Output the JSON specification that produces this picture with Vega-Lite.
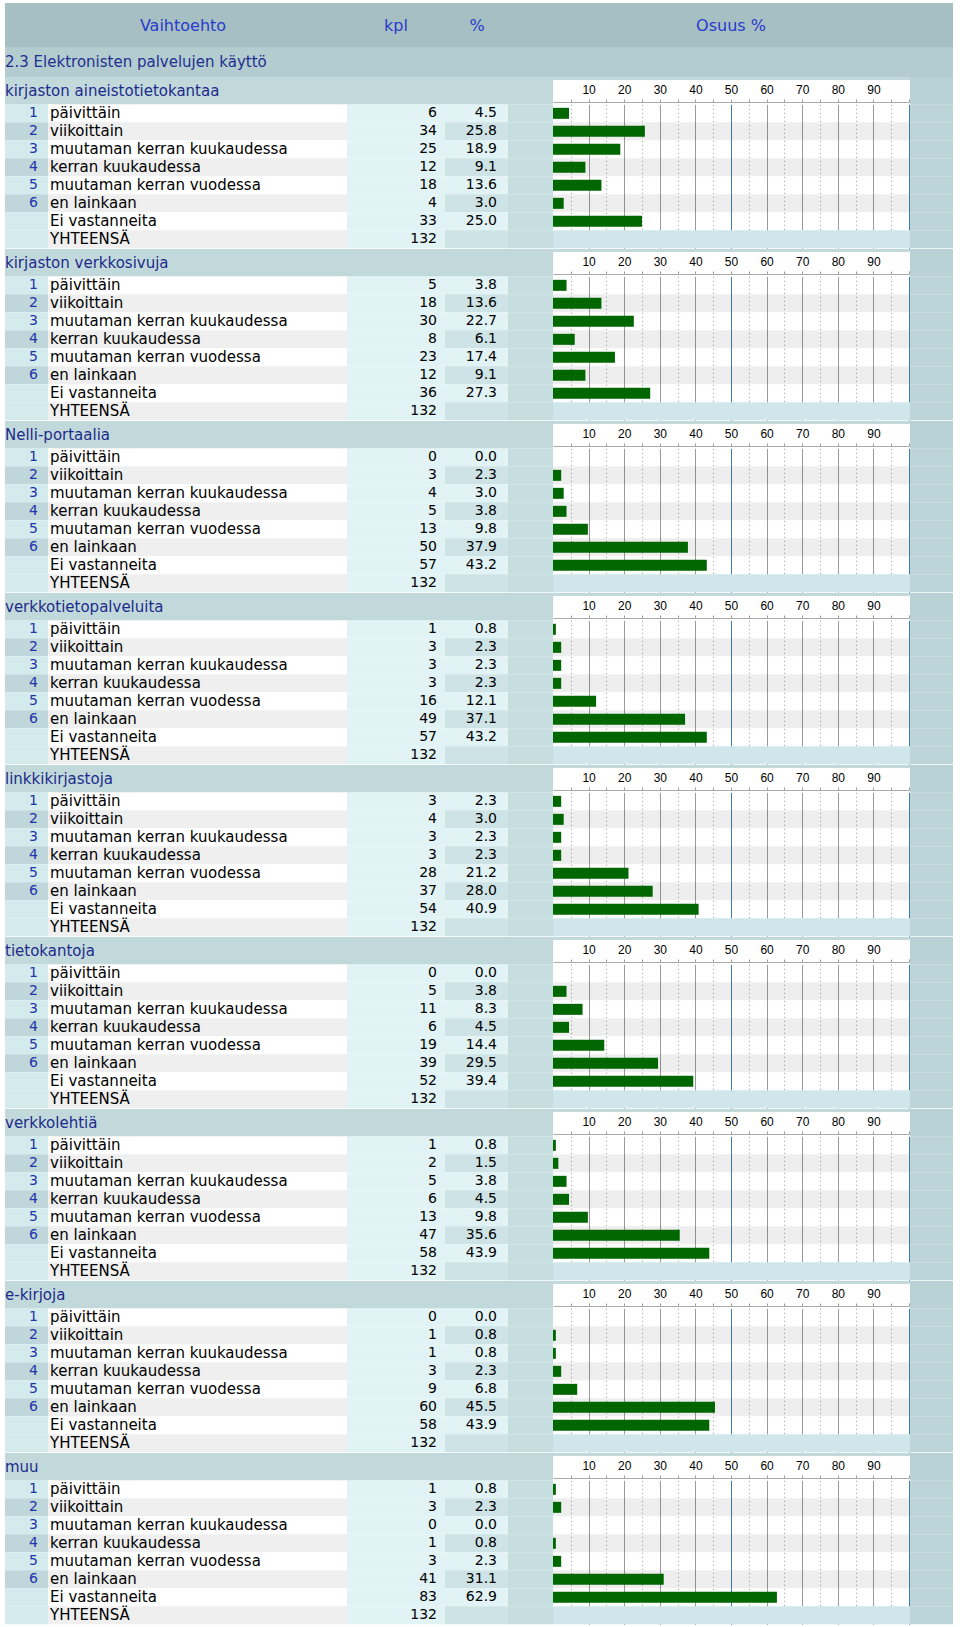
{
  "$schema": "https://vega.github.io/schema/vega-lite/v6.json",
  "background": "white",
  "padding": 0,
  "spacing": 0,
  "config": {
    "view": {"stroke": null},
    "concat": {"spacing": 0},
    "facet": {"spacing": 0},
    "text": {"font": "DejaVu Sans"}
  },
  "vconcat": [
    {
      "width": 960,
      "height": 77,
      "data": {"values": [{"part": "header"}]},
      "layer": [
        {"mark": {"type": "rect", "color": "#a6bfc2"}, "encoding": {"x": {"value": 5}, "x2": {"value": 953}, "y": {"value": 3}, "y2": {"value": 47}}},
        {"mark": {"type": "rect", "color": "#b3ccd0"}, "encoding": {"x": {"value": 5}, "x2": {"value": 953}, "y": {"value": 47}, "y2": {"value": 77}}},
        {"mark": {"type": "text", "text": "Vaihtoehto", "align": "center", "baseline": "middle", "fontSize": 16, "color": "#2a3acc"}, "encoding": {"x": {"value": 183}, "y": {"value": 26}}},
        {"mark": {"type": "text", "text": "kpl", "align": "center", "baseline": "middle", "fontSize": 16, "color": "#2a3acc"}, "encoding": {"x": {"value": 396}, "y": {"value": 26}}},
        {"mark": {"type": "text", "text": "%", "align": "center", "baseline": "middle", "fontSize": 16, "color": "#2a3acc"}, "encoding": {"x": {"value": 477}, "y": {"value": 26}}},
        {"mark": {"type": "text", "text": "Osuus %", "align": "center", "baseline": "middle", "fontSize": 16, "color": "#2a3acc"}, "encoding": {"x": {"value": 731}, "y": {"value": 26}}},
        {"mark": {"type": "text", "text": "2.3 Elektronisten palvelujen käyttö", "align": "left", "baseline": "middle", "fontSize": 15, "color": "#1f2f8f"}, "encoding": {"x": {"value": 5}, "y": {"value": 62}}}
      ]
    },
    {
      "data": {"values": [
        {"gi":1,"g":"kirjaston aineistotietokantaa","r":1,"code":"1","label":"päivittäin","kpl":6,"pct":4.5},
        {"gi":1,"g":"kirjaston aineistotietokantaa","r":2,"code":"2","label":"viikoittain","kpl":34,"pct":25.8},
        {"gi":1,"g":"kirjaston aineistotietokantaa","r":3,"code":"3","label":"muutaman kerran kuukaudessa","kpl":25,"pct":18.9},
        {"gi":1,"g":"kirjaston aineistotietokantaa","r":4,"code":"4","label":"kerran kuukaudessa","kpl":12,"pct":9.1},
        {"gi":1,"g":"kirjaston aineistotietokantaa","r":5,"code":"5","label":"muutaman kerran vuodessa","kpl":18,"pct":13.6},
        {"gi":1,"g":"kirjaston aineistotietokantaa","r":6,"code":"6","label":"en lainkaan","kpl":4,"pct":3.0},
        {"gi":1,"g":"kirjaston aineistotietokantaa","r":7,"code":"","label":"Ei vastanneita","kpl":33,"pct":25.0},
        {"gi":1,"g":"kirjaston aineistotietokantaa","r":8,"code":"","label":"YHTEENSÄ","kpl":132,"pct":null},
        {"gi":2,"g":"kirjaston verkkosivuja","r":1,"code":"1","label":"päivittäin","kpl":5,"pct":3.8},
        {"gi":2,"g":"kirjaston verkkosivuja","r":2,"code":"2","label":"viikoittain","kpl":18,"pct":13.6},
        {"gi":2,"g":"kirjaston verkkosivuja","r":3,"code":"3","label":"muutaman kerran kuukaudessa","kpl":30,"pct":22.7},
        {"gi":2,"g":"kirjaston verkkosivuja","r":4,"code":"4","label":"kerran kuukaudessa","kpl":8,"pct":6.1},
        {"gi":2,"g":"kirjaston verkkosivuja","r":5,"code":"5","label":"muutaman kerran vuodessa","kpl":23,"pct":17.4},
        {"gi":2,"g":"kirjaston verkkosivuja","r":6,"code":"6","label":"en lainkaan","kpl":12,"pct":9.1},
        {"gi":2,"g":"kirjaston verkkosivuja","r":7,"code":"","label":"Ei vastanneita","kpl":36,"pct":27.3},
        {"gi":2,"g":"kirjaston verkkosivuja","r":8,"code":"","label":"YHTEENSÄ","kpl":132,"pct":null},
        {"gi":3,"g":"Nelli-portaalia","r":1,"code":"1","label":"päivittäin","kpl":0,"pct":0.0},
        {"gi":3,"g":"Nelli-portaalia","r":2,"code":"2","label":"viikoittain","kpl":3,"pct":2.3},
        {"gi":3,"g":"Nelli-portaalia","r":3,"code":"3","label":"muutaman kerran kuukaudessa","kpl":4,"pct":3.0},
        {"gi":3,"g":"Nelli-portaalia","r":4,"code":"4","label":"kerran kuukaudessa","kpl":5,"pct":3.8},
        {"gi":3,"g":"Nelli-portaalia","r":5,"code":"5","label":"muutaman kerran vuodessa","kpl":13,"pct":9.8},
        {"gi":3,"g":"Nelli-portaalia","r":6,"code":"6","label":"en lainkaan","kpl":50,"pct":37.9},
        {"gi":3,"g":"Nelli-portaalia","r":7,"code":"","label":"Ei vastanneita","kpl":57,"pct":43.2},
        {"gi":3,"g":"Nelli-portaalia","r":8,"code":"","label":"YHTEENSÄ","kpl":132,"pct":null},
        {"gi":4,"g":"verkkotietopalveluita","r":1,"code":"1","label":"päivittäin","kpl":1,"pct":0.8},
        {"gi":4,"g":"verkkotietopalveluita","r":2,"code":"2","label":"viikoittain","kpl":3,"pct":2.3},
        {"gi":4,"g":"verkkotietopalveluita","r":3,"code":"3","label":"muutaman kerran kuukaudessa","kpl":3,"pct":2.3},
        {"gi":4,"g":"verkkotietopalveluita","r":4,"code":"4","label":"kerran kuukaudessa","kpl":3,"pct":2.3},
        {"gi":4,"g":"verkkotietopalveluita","r":5,"code":"5","label":"muutaman kerran vuodessa","kpl":16,"pct":12.1},
        {"gi":4,"g":"verkkotietopalveluita","r":6,"code":"6","label":"en lainkaan","kpl":49,"pct":37.1},
        {"gi":4,"g":"verkkotietopalveluita","r":7,"code":"","label":"Ei vastanneita","kpl":57,"pct":43.2},
        {"gi":4,"g":"verkkotietopalveluita","r":8,"code":"","label":"YHTEENSÄ","kpl":132,"pct":null},
        {"gi":5,"g":"linkkikirjastoja","r":1,"code":"1","label":"päivittäin","kpl":3,"pct":2.3},
        {"gi":5,"g":"linkkikirjastoja","r":2,"code":"2","label":"viikoittain","kpl":4,"pct":3.0},
        {"gi":5,"g":"linkkikirjastoja","r":3,"code":"3","label":"muutaman kerran kuukaudessa","kpl":3,"pct":2.3},
        {"gi":5,"g":"linkkikirjastoja","r":4,"code":"4","label":"kerran kuukaudessa","kpl":3,"pct":2.3},
        {"gi":5,"g":"linkkikirjastoja","r":5,"code":"5","label":"muutaman kerran vuodessa","kpl":28,"pct":21.2},
        {"gi":5,"g":"linkkikirjastoja","r":6,"code":"6","label":"en lainkaan","kpl":37,"pct":28.0},
        {"gi":5,"g":"linkkikirjastoja","r":7,"code":"","label":"Ei vastanneita","kpl":54,"pct":40.9},
        {"gi":5,"g":"linkkikirjastoja","r":8,"code":"","label":"YHTEENSÄ","kpl":132,"pct":null},
        {"gi":6,"g":"tietokantoja","r":1,"code":"1","label":"päivittäin","kpl":0,"pct":0.0},
        {"gi":6,"g":"tietokantoja","r":2,"code":"2","label":"viikoittain","kpl":5,"pct":3.8},
        {"gi":6,"g":"tietokantoja","r":3,"code":"3","label":"muutaman kerran kuukaudessa","kpl":11,"pct":8.3},
        {"gi":6,"g":"tietokantoja","r":4,"code":"4","label":"kerran kuukaudessa","kpl":6,"pct":4.5},
        {"gi":6,"g":"tietokantoja","r":5,"code":"5","label":"muutaman kerran vuodessa","kpl":19,"pct":14.4},
        {"gi":6,"g":"tietokantoja","r":6,"code":"6","label":"en lainkaan","kpl":39,"pct":29.5},
        {"gi":6,"g":"tietokantoja","r":7,"code":"","label":"Ei vastanneita","kpl":52,"pct":39.4},
        {"gi":6,"g":"tietokantoja","r":8,"code":"","label":"YHTEENSÄ","kpl":132,"pct":null},
        {"gi":7,"g":"verkkolehtiä","r":1,"code":"1","label":"päivittäin","kpl":1,"pct":0.8},
        {"gi":7,"g":"verkkolehtiä","r":2,"code":"2","label":"viikoittain","kpl":2,"pct":1.5},
        {"gi":7,"g":"verkkolehtiä","r":3,"code":"3","label":"muutaman kerran kuukaudessa","kpl":5,"pct":3.8},
        {"gi":7,"g":"verkkolehtiä","r":4,"code":"4","label":"kerran kuukaudessa","kpl":6,"pct":4.5},
        {"gi":7,"g":"verkkolehtiä","r":5,"code":"5","label":"muutaman kerran vuodessa","kpl":13,"pct":9.8},
        {"gi":7,"g":"verkkolehtiä","r":6,"code":"6","label":"en lainkaan","kpl":47,"pct":35.6},
        {"gi":7,"g":"verkkolehtiä","r":7,"code":"","label":"Ei vastanneita","kpl":58,"pct":43.9},
        {"gi":7,"g":"verkkolehtiä","r":8,"code":"","label":"YHTEENSÄ","kpl":132,"pct":null},
        {"gi":8,"g":"e-kirjoja","r":1,"code":"1","label":"päivittäin","kpl":0,"pct":0.0},
        {"gi":8,"g":"e-kirjoja","r":2,"code":"2","label":"viikoittain","kpl":1,"pct":0.8},
        {"gi":8,"g":"e-kirjoja","r":3,"code":"3","label":"muutaman kerran kuukaudessa","kpl":1,"pct":0.8},
        {"gi":8,"g":"e-kirjoja","r":4,"code":"4","label":"kerran kuukaudessa","kpl":3,"pct":2.3},
        {"gi":8,"g":"e-kirjoja","r":5,"code":"5","label":"muutaman kerran vuodessa","kpl":9,"pct":6.8},
        {"gi":8,"g":"e-kirjoja","r":6,"code":"6","label":"en lainkaan","kpl":60,"pct":45.5},
        {"gi":8,"g":"e-kirjoja","r":7,"code":"","label":"Ei vastanneita","kpl":58,"pct":43.9},
        {"gi":8,"g":"e-kirjoja","r":8,"code":"","label":"YHTEENSÄ","kpl":132,"pct":null},
        {"gi":9,"g":"muu","r":1,"code":"1","label":"päivittäin","kpl":1,"pct":0.8},
        {"gi":9,"g":"muu","r":2,"code":"2","label":"viikoittain","kpl":3,"pct":2.3},
        {"gi":9,"g":"muu","r":3,"code":"3","label":"muutaman kerran kuukaudessa","kpl":0,"pct":0.0},
        {"gi":9,"g":"muu","r":4,"code":"4","label":"kerran kuukaudessa","kpl":1,"pct":0.8},
        {"gi":9,"g":"muu","r":5,"code":"5","label":"muutaman kerran vuodessa","kpl":3,"pct":2.3},
        {"gi":9,"g":"muu","r":6,"code":"6","label":"en lainkaan","kpl":41,"pct":31.1},
        {"gi":9,"g":"muu","r":7,"code":"","label":"Ei vastanneita","kpl":83,"pct":62.9},
        {"gi":9,"g":"muu","r":8,"code":"","label":"YHTEENSÄ","kpl":132,"pct":null}
      ]},
      "facet": {"row": {"field": "gi", "type": "ordinal", "header": null}},
      "spacing": 0,
      "resolve": {"axis": {"x": "independent"}},
      "spec": {
        "width": 960,
        "height": 171.33,
        "encoding": {
          "y": {"field": "r", "type": "ordinal", "axis": null, "scale": {"type": "band", "domain": [1,2,3,4,5,6,7,8], "range": [27.33, 171.33], "paddingInner": 0, "paddingOuter": 0}}
        },
        "layer": [
          {"mark": "rect", "encoding": {"x": {"value": 5}, "x2": {"value": 48}, "color": {"condition": {"test": "datum.r == 2 || datum.r == 4 || datum.r == 6", "value": "#bfd6da"}, "value": "#d4ebee"}}},
          {"mark": "rect", "encoding": {"x": {"value": 48}, "x2": {"value": 347}, "color": {"condition": {"test": "datum.r % 2 == 0", "value": "#efefef"}, "value": "#ffffff"}}},
          {"mark": {"type": "rect", "color": "#e2f3f5"}, "encoding": {"x": {"value": 347}, "x2": {"value": 445}}},
          {"mark": "rect", "encoding": {"x": {"value": 445}, "x2": {"value": 508}, "color": {"condition": {"test": "datum.r % 2 == 0", "value": "#cee3e6"}, "value": "#e2f3f5"}}},
          {"mark": {"type": "rect", "color": "#c7dee1"}, "encoding": {"x": {"value": 508}, "x2": {"value": 553}}},
          {"transform": [{"filter": "datum.r % 2 == 0 && datum.r < 8"}], "mark": {"type": "rect", "color": "#000000", "opacity": 0.065}, "encoding": {"x": {"value": 553}, "x2": {"value": 909}}},
          {"transform": [{"filter": "datum.r == 8"}], "mark": {"type": "rect", "color": "#cfe7ea"}, "encoding": {"x": {"value": 553}, "x2": {"value": 910}}},
          {"mark": {"type": "rect", "color": "#bbd5d9"}, "encoding": {"x": {"value": 910}, "x2": {"value": 953}}},
          {"transform": [{"filter": "datum.r == 1"}], "mark": {"type": "rect", "color": "#c2d9dc"}, "encoding": {"x": {"value": 5}, "x2": {"value": 553}, "y": {"value": 0}, "y2": {"value": 27.33}}},
          {"transform": [{"filter": "datum.r == 1"}], "mark": {"type": "rect", "color": "#c2d9dc"}, "encoding": {"x": {"value": 553}, "x2": {"value": 910}, "y": {"value": 0}, "y2": {"value": 3}}},
          {"transform": [{"filter": "datum.r == 1"}], "mark": {"type": "rect", "color": "#b8d2d6"}, "encoding": {"x": {"value": 910}, "x2": {"value": 953}, "y": {"value": 0}, "y2": {"value": 27.33}}},
          {
            "mark": {"type": "bar", "height": 11, "color": "#006600"},
            "encoding": {
              "x": {
                "field": "pct", "type": "quantitative",
                "scale": {"domain": [0, 100], "range": [553, 909], "nice": false, "zero": true},
                "axis": {
                  "orient": "top", "offset": -25, "title": null, "zindex": 0,
                  "values": [5,10,15,20,25,30,35,40,45,50,55,60,65,70,75,80,85,90,95,100],
                  "labelExpr": "datum.value % 10 === 0 && datum.value < 100 ? datum.label : ''",
                  "labelFont": "Liberation Sans", "labelFontSize": 12, "labelColor": "#000000", "labelPadding": 3,
                  "labelOverlap": false, "labelFlush": false,
                  "tickSize": 3, "tickColor": "#999999",
                  "domain": true, "domainColor": "#aaaaaa",
                  "grid": true, "gridWidth": 1,
                  "gridColor": {"condition": {"test": "datum.value === 50 || datum.value === 100", "value": "#3c7fae"}, "value": "#9a9a9a"},
                  "gridDash": {"condition": {"test": "datum.value % 10 !== 0", "value": [1, 3]}, "value": []}
                }
              }
            }
          },
          {"mark": {"type": "text", "align": "right", "baseline": "middle", "fontSize": 14, "color": "#2233aa"}, "encoding": {"x": {"value": 38}, "text": {"field": "code"}}},
          {"mark": {"type": "text", "align": "left", "baseline": "middle", "fontSize": 15, "color": "#000000"}, "encoding": {"x": {"value": 50}, "text": {"field": "label"}}},
          {"mark": {"type": "text", "align": "right", "baseline": "middle", "fontSize": 14, "color": "#000000"}, "encoding": {"x": {"value": 437}, "text": {"field": "kpl", "type": "quantitative"}}},
          {"transform": [{"filter": "isValid(datum.pct)"}], "mark": {"type": "text", "align": "right", "baseline": "middle", "fontSize": 14, "color": "#000000"}, "encoding": {"x": {"value": 497}, "text": {"field": "pct", "type": "quantitative", "format": ".1f"}}},
          {"transform": [{"filter": "datum.r == 1"}], "mark": {"type": "text", "align": "left", "baseline": "middle", "fontSize": 15, "color": "#1c2b8a"}, "encoding": {"x": {"value": 5}, "y": {"value": 14}, "text": {"field": "g"}}}
        ]
      }
    }
  ]
}
